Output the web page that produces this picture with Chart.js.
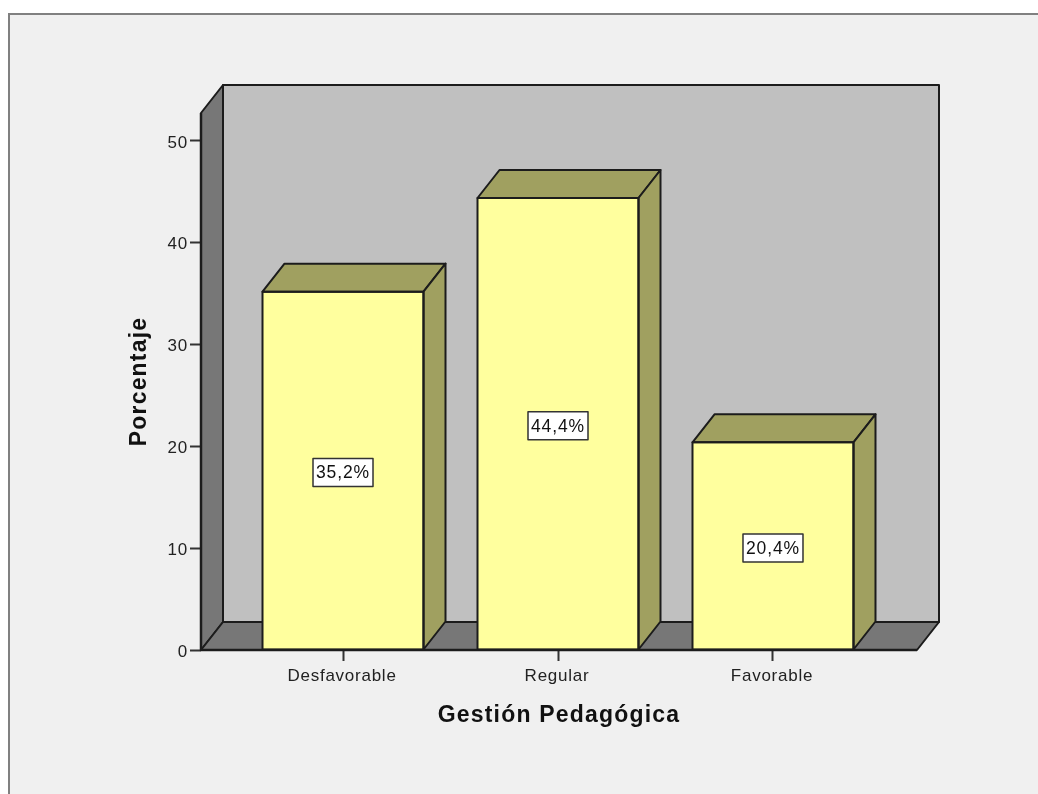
<!DOCTYPE html>
<html><head><meta charset="utf-8">
<style>html,body{margin:0;padding:0;background:#fff;overflow:hidden}canvas{display:block}#w{width:1038px;height:794px;position:relative}</style>
<script src="https://cdn.jsdelivr.net/npm/chart.js@4"></script>
</head><body><div id="w"><canvas id="c" width="1038" height="794"></canvas></div>
<script>
const categories = ['Desfavorable', 'Regular', 'Favorable'];
const percentages = [35.2, 44.4, 20.4];
const valueLabels = ['35,2%', '44,4%', '20,4%'];
const yTicks = [0, 10, 20, 30, 40, 50];
const xTitle = 'Gestión Pedagógica';
const yTitle = 'Porcentaje';

const DX = 22, DY = -28;
const INK = '#1c1c1c';
const FONT = '"Liberation Sans", Arial, sans-serif';

function poly(ctx, pts, fill) {
  ctx.beginPath();
  pts.forEach((p, i) => i ? ctx.lineTo(p[0], p[1]) : ctx.moveTo(p[0], p[1]));
  ctx.closePath();
  ctx.fillStyle = fill; ctx.fill();
  ctx.strokeStyle = INK; ctx.lineWidth = 2; ctx.lineJoin = 'round'; ctx.stroke();
}

function spaced(scale, method, spacing, dx = 0, dy = 0) {
  const original = scale[method];
  scale[method] = function (...args) {
    const ctx = scale.ctx;
    ctx.save();
    ctx.letterSpacing = spacing;
    ctx.translate(dx, dy);
    original.apply(scale, args);
    ctx.restore();
  };
}

const frame3d = {
  id: 'frame3d',
  beforeLayout(chart) { chart.options.layout.padding = { top: 113, right: 121, left: 0, bottom: 0 }; },
  afterLayout(chart) {
    if (chart.$spaced) return;
    chart.$spaced = true;
    spaced(chart.scales.x, 'drawTitle', '1.2px');
    spaced(chart.scales.y, 'drawTitle', '1.2px');
    spaced(chart.scales.x, 'drawLabels', '0.75px', -1, 0);
    spaced(chart.scales.y, 'drawLabels', '0.8px', -1, 2);
  },
  beforeDraw(chart) {
    const { ctx, width, height } = chart;
    ctx.save();
    ctx.fillStyle = '#ffffff'; ctx.fillRect(0, 0, width, height);
    ctx.fillStyle = '#f0f0f0'; ctx.fillRect(8, 13, width - 8, height - 13);
    ctx.fillStyle = '#808080';
    ctx.fillRect(8, 13, width - 8, 2);
    ctx.fillRect(8, 13, 2, height - 13);
    ctx.restore();
  },
  beforeDatasetsDraw(chart) {
    const { ctx, chartArea: a } = chart;
    const l = a.left, r = a.right, t = a.top, b = a.bottom;
    ctx.save();
    poly(ctx, [[l + DX, t + DY], [r + DX, t + DY], [r + DX, b + DY], [l + DX, b + DY]], '#c0c0c0');
    poly(ctx, [[l, t], [l + DX, t + DY], [l + DX, b + DY], [l, b]], '#777777');
    poly(ctx, [[l, b], [l + DX, b + DY], [r + DX, b + DY], [r, b]], '#777777');
    ctx.restore();
  },
  afterDatasetsDraw(chart) {
    const { ctx } = chart;
    const bars = chart.getDatasetMeta(0).data;
    ctx.save();
    bars.forEach((bar, i) => {
      const L = bar.x - bar.width / 2, R = bar.x + bar.width / 2, T = bar.y, B = bar.base;
      poly(ctx, [[L, T], [L + DX, T + DY], [R + DX, T + DY], [R, T]], '#a0a060');
      poly(ctx, [[R, T], [R + DX, T + DY], [R + DX, B + DY], [R, B]], '#a0a060');
      ctx.strokeStyle = INK; ctx.lineWidth = 2;
      ctx.strokeRect(L, T, R - L, B - T);
      const cx = bar.x, cy = (T + B) / 2 + 2;
      const w = 60, h = 28;
      ctx.fillStyle = '#ffffff';
      ctx.fillRect(cx - w / 2, cy - h / 2, w, h);
      ctx.strokeStyle = '#333333'; ctx.lineWidth = 1.5;
      ctx.strokeRect(cx - w / 2, cy - h / 2, w, h);
      ctx.fillStyle = '#111111';
      ctx.font = '17.5px ' + FONT;
      ctx.letterSpacing = '0.9px';
      ctx.textAlign = 'center'; ctx.textBaseline = 'middle';
      ctx.fillText(valueLabels[i], cx, cy + 1);
      ctx.letterSpacing = '0px';
    });
    const a = chart.chartArea;
    ctx.strokeStyle = INK; ctx.lineWidth = 2.5;
    ctx.beginPath(); ctx.moveTo(a.left, a.top); ctx.lineTo(a.left, a.bottom); ctx.lineTo(a.right, a.bottom); ctx.stroke();
    ctx.restore();
  }
};

new Chart(document.getElementById('c'), {
  type: 'bar',
  data: {
    datasets: [{
      data: percentages.map((v, i) => ({ x: i, y: v })),
      backgroundColor: '#ffff9e',
      borderWidth: 0,
      barThickness: 161
    }]
  },
  options: {
    responsive: false,
    animation: false,
    parsing: false,
    plugins: { legend: { display: false }, tooltip: { enabled: false } },
    scales: {
      x: {
        type: 'linear',
        offset: false,
        min: -0.6605, max: 2.6698,
        afterBuildTicks(s) { s.ticks = categories.map((_, i) => ({ value: i })); },
        afterFit(s) { s.height = 794 - 650; },
        grid: { display: true, offset: false, drawOnChartArea: false, drawTicks: true, tickLength: 11, tickWidth: 2, tickColor: '#333333' },
        border: { display: false },
        ticks: { autoSkip: false, maxRotation: 0, padding: 5, color: '#222222',
          font: { family: FONT, size: 17 },
          callback: v => categories[v] },
        title: { display: true, text: xTitle, color: '#111111', padding: { top: 0, bottom: 65 },
          font: { family: FONT, size: 23, weight: 'bold' } }
      },
      y: {
        type: 'linear',
        min: 0, max: 52.75,
        afterBuildTicks(s) { s.ticks = yTicks.map(v => ({ value: v })); },
        afterFit(s) { s.width = 201; },
        grid: { display: true, drawOnChartArea: false, drawTicks: true, tickLength: 11, tickWidth: 2, tickColor: '#333333' },
        border: { display: false },
        ticks: { padding: 1, color: '#222222',
          font: { family: FONT, size: 17 } },
        title: { display: true, text: yTitle, color: '#111111', padding: { top: 126, bottom: 0 },
          font: { family: FONT, size: 23, weight: 'bold' } }
      }
    }
  },
  plugins: [frame3d]
});
</script></body></html>
